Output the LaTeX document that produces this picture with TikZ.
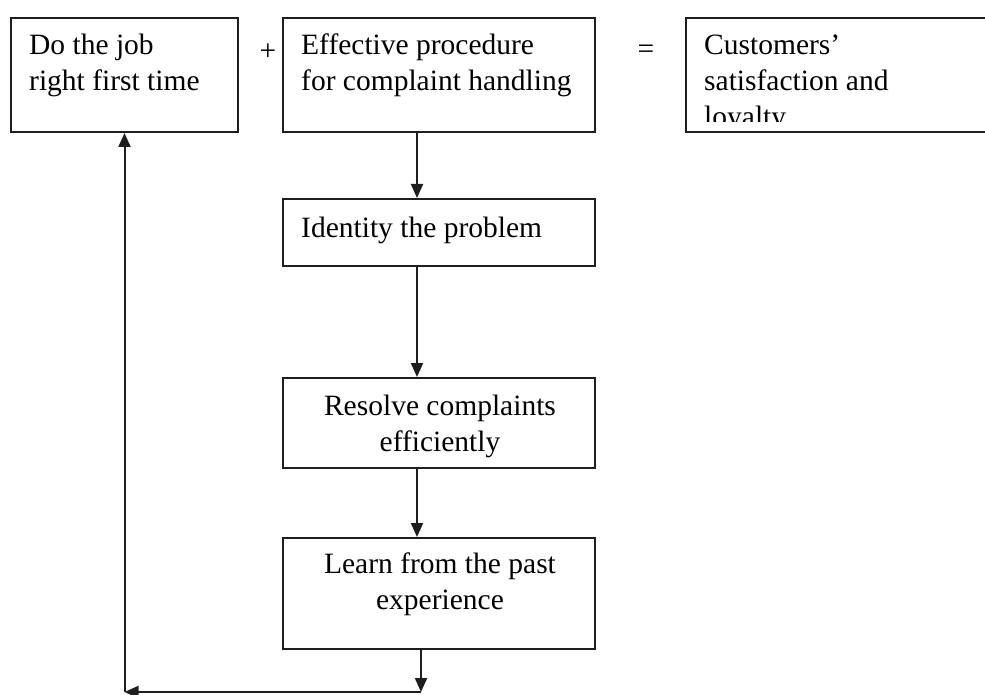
\documentclass[tikz,border=0pt]{standalone}
\usepackage{fontspec}
\setmainfont{Liberation Serif}
\usetikzlibrary{positioning, arrows.meta, calc}
\definecolor{lineblack}{RGB}{30,30,30}

\begin{document}
\begin{tikzpicture}[x=1pt, y=-1pt, font=\fontsize{29.5}{36}\selectfont,
box/.style={rectangle, draw=lineblack, line width=2pt,
minimum width=312pt, inner sep=0pt},
txt/.style={inner sep=0pt, align=#1},
txt/.default=left,
arrow/.style={-{Triangle[length=14pt, width=12pt]}, line width=2pt, draw=lineblack}
]
\useasboundingbox (0,0) rectangle (985,695);
\clip (0,0) rectangle (985,695);

% Top row
\node[box, minimum width=227pt, minimum height=114pt, anchor=north west] (job) at (10,17) {};
\node[box, minimum height=114pt, anchor=north west] (proc) at (282,17) {};
\node[box, minimum width=320pt, minimum height=114pt, anchor=north west] (loyal) at (685,17) {};
\node (plus) at (268,52) {+};
\node (equals) at (646,52) {=};

% Chain
\node[box, minimum height=67pt, below=65pt of proc] (ident) {};
\node[box, minimum height=90pt, below=110pt of ident] (resolve) {};
\node[box, minimum height=111pt, below=68pt of resolve] (learn) {};

% Texts (base = baseline of the last line)
\node[txt, anchor=base west] (jobtxt) at ($(job.north west)+(19,74)$)
{Do the job\\right first time};
\node[txt, anchor=base west] (proctxt) at ($(proc.north west)+(19,74)$)
{Effective procedure\\for complaint handling};
\begin{scope}
\clip (685,17) rectangle (985,122);
\node[txt, anchor=base west] (loyaltxt) at ($(loyal.north west)+(19,110)$)
{Customers’\\satisfaction and\\loyalty};
\end{scope}
\node[txt, anchor=base west] (identtxt) at ($(ident.north west)+(19,39)$)
{Identity the problem};
\node[txt=center, anchor=base] (resolvetxt) at ($(resolve.north)+(1,74)$)
{Resolve complaints\\efficiently};
\node[txt=center, anchor=base] (learntxt) at ($(learn.north)+(1,72)$)
{Learn from the past\\experience};

% Arrows
\coordinate (turnR) at ([xshift=-18pt, yshift=-42pt]learn.south);
\coordinate (turnL) at (turnR -| job.south);
\draw[arrow] ([xshift=-22pt]proc.south) -- ([xshift=-22pt]ident.north);
\draw[arrow] ([xshift=-22pt]ident.south) -- ([xshift=-22pt]resolve.north);
\draw[arrow] ([xshift=-22pt]resolve.south) -- ([xshift=-22pt]learn.north);
\draw[arrow] ([xshift=-18pt]learn.south) -- (turnR);
\draw[arrow] (turnR) -- (turnL);
\draw[arrow] (turnL) -- (job.south);

\end{tikzpicture}
\end{document}
